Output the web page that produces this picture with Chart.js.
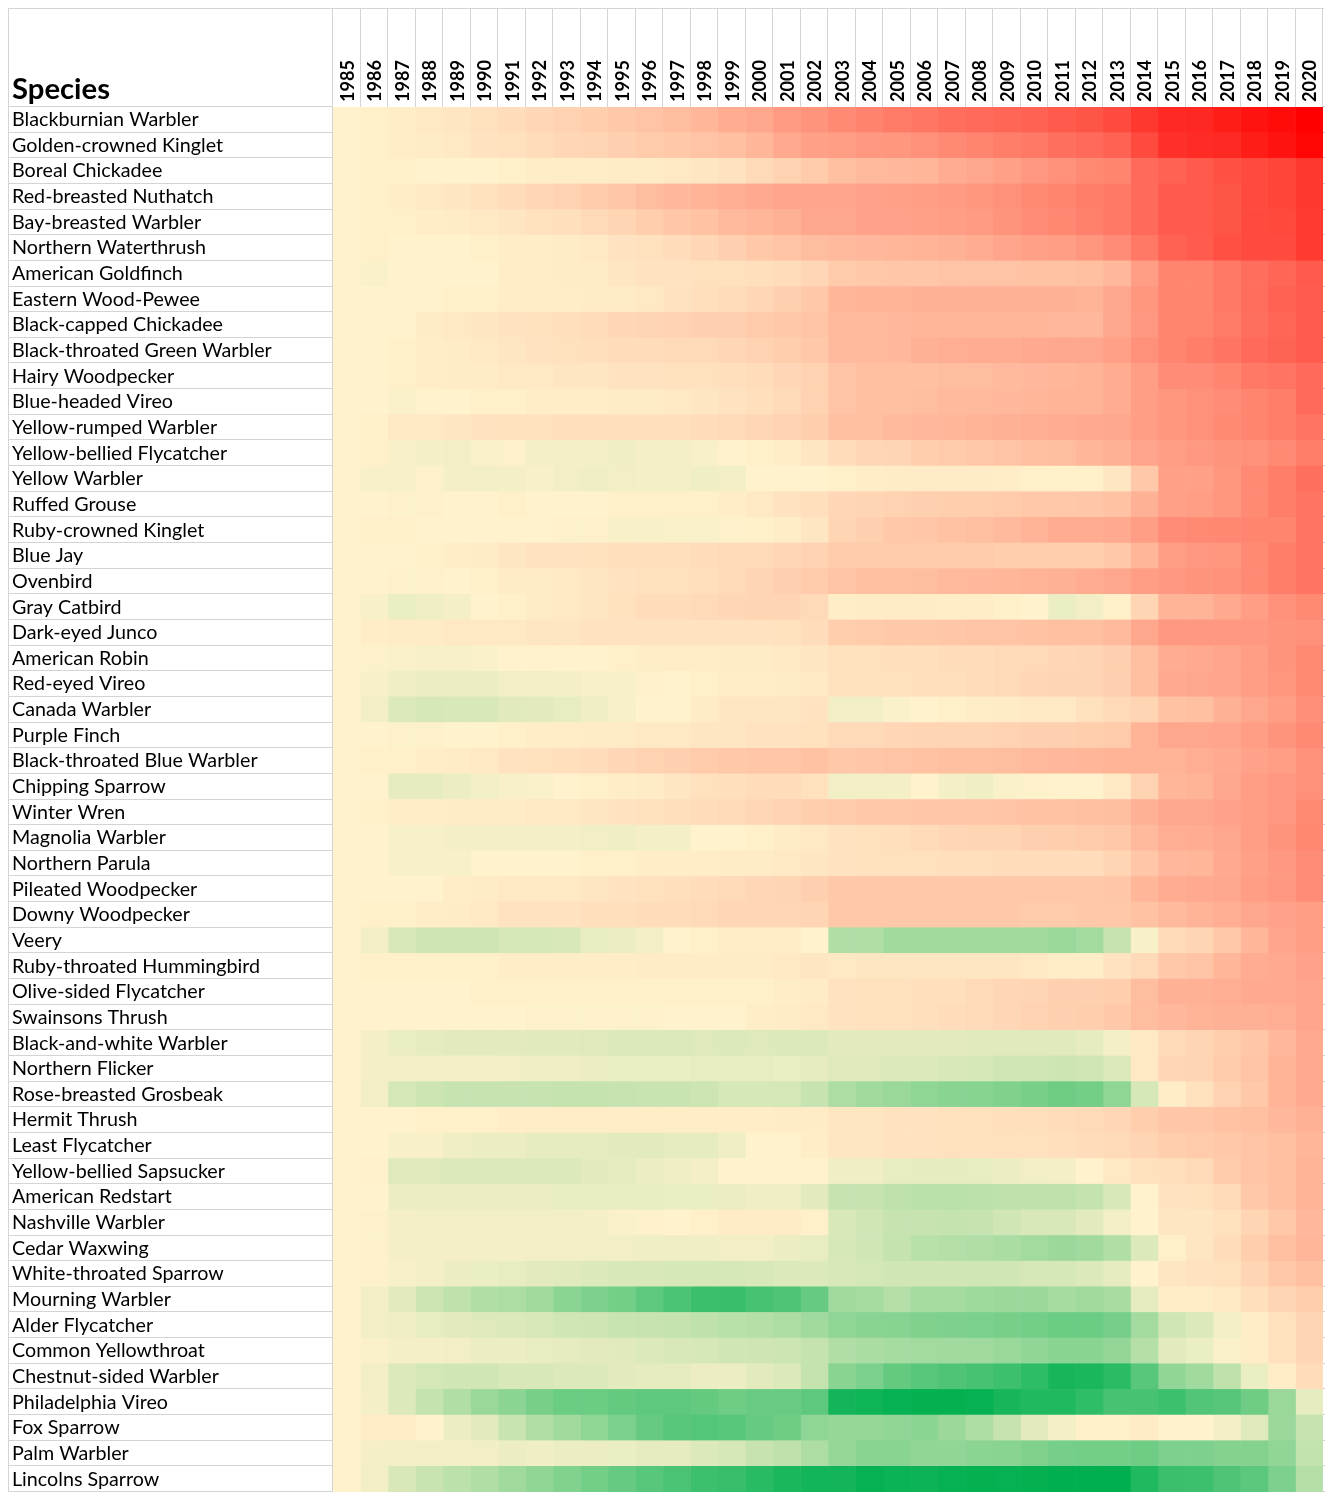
<!DOCTYPE html>
<html lang="en">
<head>
    <meta charset="UTF-8">
    <title>Species heatmap</title>
    <style>
        html, body { margin: 0; padding: 0; background: #fff; }
        #wrap { width: 1325px; height: 1492px; }
    </style>
</head>
<body>
    <div id="wrap"><canvas id="chart"></canvas></div>

    <script src="https://cdn.jsdelivr.net/npm/chart.js@4.4.1/dist/chart.umd.min.js"></script>
    <script>
        const years = ['1985', '1986', '1987', '1988', '1989', '1990', '1991', '1992', '1993', '1994', '1995', '1996',
            '1997', '1998', '1999', '2000', '2001', '2002', '2003', '2004', '2005', '2006', '2007', '2008',
            '2009', '2010', '2011', '2012', '2013', '2014', '2015', '2016', '2017', '2018', '2019', '2020'];

        const species = ['Blackburnian Warbler', 'Golden-crowned Kinglet', 'Boreal Chickadee', 'Red-breasted Nuthatch',
            'Bay-breasted Warbler', 'Northern Waterthrush', 'American Goldfinch', 'Eastern Wood-Pewee',
            'Black-capped Chickadee', 'Black-throated Green Warbler', 'Hairy Woodpecker', 'Blue-headed Vireo',
            'Yellow-rumped Warbler', 'Yellow-bellied Flycatcher', 'Yellow Warbler', 'Ruffed Grouse',
            'Ruby-crowned Kinglet', 'Blue Jay', 'Ovenbird', 'Gray Catbird', 'Dark-eyed Junco', 'American Robin',
            'Red-eyed Vireo', 'Canada Warbler', 'Purple Finch', 'Black-throated Blue Warbler', 'Chipping Sparrow',
            'Winter Wren', 'Magnolia Warbler', 'Northern Parula', 'Pileated Woodpecker', 'Downy Woodpecker', 'Veery',
            'Ruby-throated Hummingbird', 'Olive-sided Flycatcher', 'Swainsons Thrush', 'Black-and-white Warbler',
            'Northern Flicker', 'Rose-breasted Grosbeak', 'Hermit Thrush', 'Least Flycatcher',
            'Yellow-bellied Sapsucker', 'American Redstart', 'Nashville Warbler', 'Cedar Waxwing',
            'White-throated Sparrow', 'Mourning Warbler', 'Alder Flycatcher', 'Common Yellowthroat',
            'Chestnut-sided Warbler', 'Philadelphia Vireo', 'Fox Sparrow', 'Palm Warbler', 'Lincolns Sparrow'];

        // one row per species, 1985..2020; positive = red end, negative = green end (-100..100)
        const blackburnianWarbler = [0,1,2,4,5,7,9,11,13,15,17,19,22,25,29,31,36,39, 43,46,49,51,55,56,58,60,63,65,69,77,83,84,88,92,95,100];
        const goldenCrownedKinglet = [0,1,2,3,4,6,7,9,11,12,14,16,17,19,21,25,30,34, 35,37,38,40,43,45,48,50,54,56,60,69,80,82,83,88,92,98];
        const borealChickadee = [0,1,1,0,0,0,1,2,2,2,3,3,4,5,6,10,13,16, 21,23,24,25,29,31,34,37,40,43,45,56,60,63,67,69,72,77];
        const redBreastedNuthatch = [0,1,2,4,5,7,9,11,13,16,18,22,24,26,28,30,32,32, 32,33,34,35,36,38,40,43,45,48,50,56,63,63,65,69,72,77];
        const bayBreastedWarbler = [0,1,1,2,3,4,5,7,8,10,12,15,18,20,23,25,27,31, 31,33,33,34,35,36,39,42,44,47,50,56,63,63,65,69,70,76];
        const northernWaterthrush = [0,1,0,0,0,1,2,2,3,4,6,7,9,11,14,17,19,22, 23,24,25,26,27,29,32,34,35,38,42,50,60,62,67,69,69,76];
        const americanGoldfinch = [0,-2,0,0,0,0,2,2,3,3,5,6,6,7,7,8,9,11, 16,17,18,18,19,19,19,20,20,21,24,35,45,45,50,55,58,63];
        const easternWoodPewee = [0,0,0,0,1,1,2,2,2,3,3,4,6,8,9,11,14,17, 25,26,26,27,27,27,27,27,27,26,31,38,45,45,50,55,60,62];
        const blackCappedChickadee = [0,0,0,3,4,5,6,7,8,9,11,12,13,14,14,16,17,19, 23,23,24,25,25,25,25,25,24,24,31,37,45,45,49,54,58,62];
        const blackThroatedGreenWarbler = [0,0,1,2,3,4,5,6,7,8,9,9,10,10,11,13,15,17, 23,23,24,27,28,29,29,30,31,31,34,40,45,48,52,56,59,62];
        const hairyWoodpecker = [0,0,1,2,3,3,4,4,5,5,6,6,7,7,8,9,11,13, 19,21,21,21,22,22,23,24,25,26,29,35,42,42,45,50,52,56];
        const blueHeadedVireo = [0,0,-2,0,0,1,1,2,2,2,3,3,4,5,6,8,10,13, 19,21,21,22,23,23,24,25,26,26,29,35,38,40,42,45,48,56];
        const yellowRumpedWarbler = [0,1,4,4,5,6,7,7,8,8,8,8,8,9,10,11,13,15, 21,21,23,24,25,26,27,28,29,30,31,35,38,40,43,45,48,52];
        const yellowBelliedFlycatcher = [0,1,-3,-4,-5,-2,-1,-4,-4,-4,-6,-4,-4,-3,0,1,2,5, 9,11,12,15,16,17,19,21,22,25,27,32,35,37,39,40,43,48];
        const yellowWarbler = [0,-3,-3,-1,-4,-5,-4,-3,-5,-6,-5,-4,-4,-6,-5,0,0,0, 1,2,3,3,3,3,2,1,1,1,5,17,34,34,38,43,48,54];
        const ruffedGrouse = [0,0,-1,-1,0,0,1,0,0,0,1,1,1,1,2,4,6,8, 11,12,13,14,15,15,16,17,17,18,20,27,34,35,38,43,48,52];
        const rubyCrownedKinglet = [0,1,1,0,0,0,0,0,-1,-1,-3,-3,-2,-2,-1,1,2,5, 12,14,17,18,20,21,23,26,29,29,30,35,42,43,44,45,45,52];
        const blueJay = [0,0,0,1,2,3,5,6,6,7,8,8,8,9,10,10,11,13, 16,16,16,16,16,16,15,15,15,15,17,25,35,37,38,43,48,52];
        const ovenbird = [0,0,-1,-1,0,1,3,3,4,5,6,7,7,8,10,12,14,16, 19,21,21,22,23,24,25,26,27,29,31,35,37,39,40,43,48,52];
        const grayCatbird = [0,-3,-8,-6,-4,0,1,3,4,5,7,9,9,10,11,12,12,10, 2,3,3,3,2,2,1,0,-8,-5,1,12,26,26,30,35,40,43];
        const darkEyedJunco = [0,2,3,3,4,4,4,5,5,6,6,6,6,6,6,6,7,9, 15,16,17,17,18,19,19,20,21,21,23,31,37,37,37,37,39,40];
        const americanRobin = [0,-1,-2,-3,-3,-2,0,0,0,0,1,2,2,2,3,3,4,5, 7,7,8,8,9,9,10,10,11,12,14,21,29,30,32,35,39,43];
        const redEyedVireo = [0,-3,-6,-7,-7,-7,-5,-5,-4,-3,-3,-1,0,1,2,2,3,4, 7,7,7,8,8,9,10,11,12,12,14,21,30,31,32,35,38,43];
        const canadaWarbler = [0,-5,-14,-16,-15,-15,-12,-11,-9,-6,-3,0,0,3,5,5,5,6, -5,-5,-2,0,1,2,3,4,4,7,10,12,20,21,27,31,35,41];
        const purpleFinch = [0,0,-1,-1,0,0,1,2,2,3,3,4,4,5,5,6,6,7, 10,10,11,12,12,12,13,14,14,15,16,26,31,31,32,35,39,43];
        const blackThroatedBlueWarbler = [0,1,1,2,3,4,6,7,8,9,11,13,14,16,17,18,18,20, 17,18,19,20,21,21,22,23,24,25,26,26,26,28,30,33,35,40];
        const chippingSparrow = [0,0,-10,-10,-7,-5,-3,-2,0,1,2,3,5,7,8,9,9,7, -5,-5,-4,0,-4,-6,-2,-1,0,0,4,13,25,26,31,35,37,40];
        const winterWren = [0,1,2,2,3,3,3,4,4,5,6,7,8,9,10,11,13,15, 16,17,17,18,18,18,19,20,20,21,22,27,31,31,33,35,37,43];
        const magnoliaWarbler = [0,0,-3,-3,-4,-4,-4,-4,-4,-5,-6,-4,-4,0,0,1,3,4, 6,7,8,10,11,12,12,14,15,16,17,23,28,29,31,35,39,44];
        const northernParula = [0,0,-3,-3,-3,0,0,0,0,1,1,2,2,2,3,3,4,5, 6,7,7,7,8,8,9,9,9,9,12,18,24,25,30,34,37,42];
        const pileatedWoodpecker = [0,0,0,0,2,3,4,4,4,5,6,7,8,9,10,11,12,14, 17,17,17,17,17,17,17,17,17,17,18,25,29,30,31,35,37,42];
        const downyWoodpecker = [0,1,1,2,3,4,6,6,6,8,8,9,9,10,11,11,11,12, 17,17,17,17,17,17,17,16,16,17,17,20,23,26,28,31,33,35];
        const veery = [0,-5,-15,-19,-19,-19,-16,-16,-15,-9,-7,-5,0,1,2,2,2,0, -31,-31,-37,-37,-37,-37,-37,-37,-40,-36,-22,-3,10,12,17,25,32,35];
        const rubyThroatedHummingbird = [0,1,1,1,1,1,2,2,2,2,2,3,3,3,3,3,4,5, 4,5,5,5,5,5,5,4,2,2,6,10,17,19,25,29,30,33];
        const oliveSidedFlycatcher = [0,0,0,0,0,1,1,1,1,1,1,1,1,1,1,1,2,3, 6,7,7,8,8,10,11,12,14,14,15,22,27,27,28,30,30,32];
        const swainsonsThrush = [0,0,0,0,0,0,0,-1,-1,-1,-1,-1,0,0,0,2,3,4, 6,7,7,8,9,10,11,13,14,15,17,22,24,26,27,27,28,32];
        const blackAndWhiteWarbler = [0,-4,-8,-10,-11,-11,-11,-12,-12,-13,-14,-14,-14,-13,-14,-13,-14,-14, -11,-11,-11,-11,-11,-12,-12,-12,-12,-10,-4,4,10,12,15,18,24,30];
        const northernFlicker = [0,-4,-4,-4,-4,-4,-5,-6,-6,-7,-8,-8,-8,-9,-9,-9,-8,-10, -13,-13,-14,-14,-15,-16,-18,-18,-20,-18,-14,4,11,12,16,19,26,30];
        const roseBreastedGrosbeak = [0,-5,-17,-20,-22,-22,-22,-22,-23,-23,-22,-21,-21,-20,-16,-16,-17,-22, -32,-37,-40,-44,-46,-47,-50,-53,-57,-55,-44,-16,2,7,13,17,26,30];
        const hermitThrush = [0,0,0,1,1,1,2,2,2,2,2,2,2,2,2,2,3,3, 5,5,6,6,7,7,8,8,9,10,11,15,18,18,20,21,24,27];
        const leastFlycatcher = [0,0,-3,-3,-6,-7,-7,-10,-10,-10,-11,-11,-10,-10,-6,0,0,2, 5,5,6,6,7,7,7,7,8,9,10,12,15,16,17,19,21,25];
        const yellowBelliedSapsucker = [0,-1,-13,-13,-14,-14,-14,-14,-14,-11,-10,-7,-6,-4,0,0,0,0, -6,-6,-9,-10,-10,-9,-7,-5,-4,0,4,7,8,10,16,19,21,26];
        const americanRedstart = [0,0,-7,-7,-7,-7,-7,-7,-9,-9,-9,-9,-8,-8,-7,-6,-6,-11, -22,-22,-25,-27,-27,-26,-25,-25,-25,-23,-15,0,6,7,10,17,21,26];
        const nashvilleWarbler = [0,-1,-4,-5,-5,-5,-5,-5,-5,-4,-2,-1,0,1,3,3,3,1, -15,-18,-22,-22,-23,-22,-18,-15,-15,-11,-5,0,5,5,7,12,17,24];
        const cedarWaxwing = [0,-1,-4,-4,-4,-4,-4,-5,-5,-5,-5,-6,-6,-6,-5,-5,-7,-9, -16,-18,-23,-28,-29,-31,-33,-36,-39,-37,-31,-14,1,5,9,15,21,25];
        const whiteThroatedSparrow = [0,-1,-3,-4,-7,-8,-9,-11,-12,-14,-15,-15,-16,-16,-16,-15,-14,-14, -15,-17,-18,-18,-18,-18,-18,-16,-16,-14,-10,0,5,6,7,12,17,21];
        const mourningWarbler = [0,-5,-11,-20,-25,-31,-32,-37,-45,-51,-55,-63,-70,-77,-78,-72,-69,-60, -37,-35,-29,-35,-35,-38,-39,-39,-35,-37,-34,-10,2,2,4,8,12,15];
        const alderFlycatcher = [0,-5,-6,-9,-11,-13,-14,-15,-18,-19,-21,-22,-23,-25,-28,-29,-32,-37, -44,-46,-47,-50,-51,-52,-53,-55,-58,-58,-54,-36,-18,-14,-5,2,7,12];
        const commonYellowthroat = [0,-2,-4,-4,-5,-7,-7,-9,-10,-11,-12,-14,-15,-16,-18,-19,-20,-23, -31,-33,-35,-36,-37,-37,-40,-43,-46,-46,-42,-29,-11,-8,-2,2,7,12];
        const chestnutSidedWarbler = [0,-5,-14,-17,-18,-18,-15,-15,-14,-14,-11,-10,-10,-7,-7,-11,-14,-23, -46,-52,-61,-65,-69,-72,-76,-82,-91,-90,-83,-65,-43,-37,-25,-8,2,9];
        const philadelphiaVireo = [0,-4,-14,-23,-31,-40,-45,-53,-58,-58,-61,-63,-63,-61,-57,-59,-59,-63, -92,-94,-98,-99,-99,-98,-91,-87,-87,-81,-72,-72,-76,-68,-66,-57,-40,-10];
        const foxSparrow = [0,2,2,0,-7,-11,-21,-31,-37,-44,-52,-60,-65,-67,-65,-60,-57,-44, -41,-41,-43,-45,-39,-32,-22,-11,-4,1,1,3,0,0,-4,-13,-39,-22];
        const palmWarbler = [0,-4,-5,-5,-5,-5,-7,-6,-7,-7,-8,-10,-10,-14,-16,-22,-25,-32, -41,-46,-46,-43,-43,-45,-46,-50,-54,-55,-55,-57,-51,-51,-48,-48,-43,-24];
        const lincolnsSparrow = [0,-5,-15,-21,-26,-31,-37,-43,-49,-55,-60,-65,-71,-76,-79,-84,-90,-93, -92,-98,-96,-95,-98,-99,-98,-99,-100,-100,-100,-87,-77,-76,-69,-64,-51,-29];
    </script>
    <script>
        const rows = [blackburnianWarbler, goldenCrownedKinglet, borealChickadee, redBreastedNuthatch,
            bayBreastedWarbler, northernWaterthrush, americanGoldfinch, easternWoodPewee, blackCappedChickadee,
            blackThroatedGreenWarbler, hairyWoodpecker, blueHeadedVireo, yellowRumpedWarbler,
            yellowBelliedFlycatcher, yellowWarbler, ruffedGrouse, rubyCrownedKinglet, blueJay, ovenbird,
            grayCatbird, darkEyedJunco, americanRobin, redEyedVireo, canadaWarbler, purpleFinch,
            blackThroatedBlueWarbler, chippingSparrow, winterWren, magnoliaWarbler, northernParula,
            pileatedWoodpecker, downyWoodpecker, veery, rubyThroatedHummingbird, oliveSidedFlycatcher,
            swainsonsThrush, blackAndWhiteWarbler, northernFlicker, roseBreastedGrosbeak, hermitThrush,
            leastFlycatcher, yellowBelliedSapsucker, americanRedstart, nashvilleWarbler, cedarWaxwing,
            whiteThroatedSparrow, mourningWarbler, alderFlycatcher, commonYellowthroat, chestnutSidedWarbler,
            philadelphiaVireo, foxSparrow, palmWarbler, lincolnsSparrow];

        rows.forEach((r, i) => {
            if (r.length !== years.length) throw new Error(species[i] + ' has ' + r.length + ' values');
        });

        // three-colour scale: green (low) - cream (0) - red (high)
        const mid = [255, 242, 204];
        const high = [255, 0, 0];
        const low = [0, 176, 80];

        function colorFor(v) {
            const t = Math.min(Math.abs(v) / 100, 1);
            const end = v >= 0 ? high : low;
            const c = mid.map((m, k) => Math.round(m + (end[k] - m) * t));
            return `rgb(${c[0]}, ${c[1]}, ${c[2]})`;
        }

        const labelFont = 'Lato, "Open Sans", sans-serif';
        const lineColor = '#d4d4d4';

        // pick font sizes so the substitute font takes the same room as the original
        const measure = document.createElement('canvas').getContext('2d');
        function fitSize(text, weight, target) {
            measure.font = `${weight} 100px ${labelFont}`;
            return +(100 * target / measure.measureText(text).width).toFixed(2);
        }
        const labelSize = fitSize('Black-throated Green Warbler', 'normal', 260);
        const yearSize = fitSize('2018', 'bold', 42);
        const headSize = fitSize('Species', 'bold', 98);

        // a column of cells per year: stacked bars of width one
        const datasets = years.map((year, j) => ({
            label: year,
            data: species.map(() => 1),
            backgroundColor: rows.map(r => colorFor(r[j])),
            borderWidth: 0,
            barPercentage: 1,
            categoryPercentage: 1,
            stack: 'cells'
        }));

        // table lines, year headings and the "Species" heading
        const tableLines = {
            id: 'tableLines',
            afterDraw(chart) {
                const ctx = chart.ctx;
                const area = chart.chartArea;
                const yr = chart.scales.yr;
                const rowH = (area.bottom - area.top) / species.length;
                const colW = (area.right - area.left) / years.length;
                const x0 = 8, y0 = 8;

                ctx.save();
                ctx.strokeStyle = lineColor;
                ctx.lineWidth = 1;
                ctx.beginPath();
                ctx.moveTo(x0, y0 + 0.5);
                ctx.lineTo(area.right + 1, y0 + 0.5);
                ctx.moveTo(x0 + 0.5, y0);
                ctx.lineTo(x0 + 0.5, area.bottom);
                ctx.moveTo(area.left - 0.5, y0);
                ctx.lineTo(area.left - 0.5, area.bottom);
                for (let j = 1; j <= years.length; j++) {
                    const x = Math.round(area.left + j * colW) - 0.5;
                    ctx.moveTo(x, y0);
                    ctx.lineTo(x, area.top);
                }
                for (let i = 0; i <= species.length; i++) {
                    const y = Math.round(area.top + i * rowH) - 0.5;
                    ctx.moveTo(x0, y);
                    ctx.lineTo(area.left, y);
                    ctx.moveTo(area.right, y);
                    ctx.lineTo(area.right + 2, y);
                }
                ctx.stroke();

                ctx.fillStyle = '#000';
                ctx.font = `bold ${yearSize}px ${labelFont}`;
                ctx.textAlign = 'left';
                ctx.textBaseline = 'middle';
                years.forEach((year, j) => {
                    ctx.save();
                    ctx.translate(yr.getPixelForTick(j) + 1, area.top - 5);
                    ctx.rotate(-Math.PI / 2);
                    ctx.fillText(year, 0, 0);
                    ctx.restore();
                });

                ctx.font = `bold ${headSize}px ${labelFont}`;
                ctx.textBaseline = 'alphabetic';
                ctx.fillText('Species', 12, 99);
                ctx.restore();
            }
        };

        const canvas = document.getElementById('chart');
        new Chart(canvas, {
            type: 'bar',
            data: { labels: species, datasets: datasets },
            options: {
                indexAxis: 'y',
                responsive: true,
                maintainAspectRatio: false,
                animation: false,
                events: [],
                layout: { padding: { left: 12, top: 8, right: 2, bottom: 0 } },
                plugins: {
                    legend: { display: false },
                    tooltip: { enabled: false }
                },
                scales: {
                    x: {
                        type: 'linear',
                        stacked: true,
                        min: 0,
                        max: years.length,
                        display: false
                    },
                    yr: {
                        type: 'category',
                        axis: 'x',
                        labels: years,
                        position: 'top',
                        offset: true,
                        grid: { display: false },
                        border: { display: false },
                        ticks: { display: false },
                        afterFit: scale => {
                            scale.height = 99;
                            scale.paddingLeft = 0;
                            scale.paddingRight = 0;
                        }
                    },
                    y: {
                        type: 'category',
                        stacked: true,
                        offset: true,
                        grid: { display: false },
                        border: { display: false },
                        ticks: {
                            autoSkip: false,
                            crossAlign: 'far',
                            padding: 0,
                            color: '#000',
                            font: { family: labelFont, size: labelSize }
                        },
                        afterFit: scale => {
                            scale.width = 321;
                            scale.paddingTop = 0;
                            scale.paddingBottom = 0;
                        }
                    }
                }
            },
            plugins: [tableLines]
        });
    </script>
</body>
</html>
